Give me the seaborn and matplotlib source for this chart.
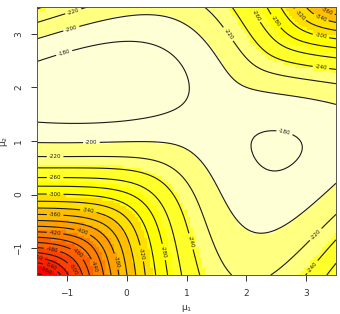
import numpy as np
import matplotlib
matplotlib.use("Agg")
import matplotlib.pyplot as plt
import seaborn as sns
from matplotlib.colors import ListedColormap, BoundaryNorm

# observed sample (binned: value -> count) for the mixture p*N(mu1,1) + (1-p)*N(mu2,1)
obs_values = [-4.5, -3.5, -1.5, -1.0, -0.5, 0.0, 0.5, 1.0, 1.5, 2.0, 2.5, 3.0, 3.5, 4.0]
obs_counts = [1, 1, 2, 3, 4, 6, 8, 9, 12, 15, 15, 11, 4, 1]
weight_1 = 0.3

mu1_limits = [-1.5, 3.5]
mu2_limits = [-1.5, 3.5]
tick_values = [-1, 0, 1, 2, 3]
contour_levels = list(range(-600, -179, 20))
heat_colors = ["#FF0000", "#FF2000", "#FF4000", "#FF6000", "#FF8000", "#FF9F00",
               "#FFBF00", "#FFDF00", "#FFFF00", "#FFFF2A", "#FFFF80", "#FFFFD5"]

sns.set_theme(style="ticks")
plt.rcParams["font.family"] = ["DejaVu Sans"]

n_grid = 100
mu1 = np.linspace(mu1_limits[0], mu1_limits[1], n_grid)
mu2 = np.linspace(mu2_limits[0], mu2_limits[1], n_grid)
M1, M2 = np.meshgrid(mu1, mu2)
xv = np.array(obs_values)[:, None, None]
wv = np.array(obs_counts)[:, None, None]
phi = lambda d: np.exp(-0.5 * d ** 2) / np.sqrt(2 * np.pi)
dens = weight_1 * phi(xv - M1) + (1 - weight_1) * phi(xv - M2)
loglik = (wv * np.log(dens)).sum(axis=0)

fig = plt.figure(figsize=(3.4, 3.14), dpi=100)
ax = fig.add_axes([37 / 340, 39 / 314, 299 / 340, 268 / 314])

zmin, zmax = loglik.min(), loglik.max()
bounds = np.linspace(zmin, zmax, len(heat_colors) + 1)
cmap = ListedColormap(heat_colors)
norm = BoundaryNorm(bounds, cmap.N, clip=True)
ax.pcolormesh(M1, M2, loglik, cmap=cmap, norm=norm, shading="nearest")

cs = ax.contour(M1, M2, loglik, levels=contour_levels, colors="#1a1a1a",
                linewidths=0.8, linestyles="solid")
ax.clabel(cs, fmt="%d", fontsize=4, inline=True, inline_spacing=2)

ax.set_xlim(mu1_limits)
ax.set_ylim(mu2_limits)
ax.set_xticks(tick_values)
ax.set_yticks(tick_values)
ax.set_xticklabels([str(t).replace("-", "\u2212") for t in tick_values])
ax.set_yticklabels([str(t).replace("-", "\u2212") for t in tick_values], rotation=90, va="center")
ax.tick_params(axis="both", direction="out", length=4, width=0.7, labelsize=6.5,
               colors="#333333", pad=6)
for s in ax.spines.values():
    s.set_linewidth(0.7)
    s.set_color("#555555")
ax.set_xlabel("μ$_1$", fontsize=6.5, labelpad=4, color="#333333")
ax.set_ylabel("μ$_2$", fontsize=6.5, labelpad=3, color="#333333")

fig.savefig("out.png", dpi=100)
